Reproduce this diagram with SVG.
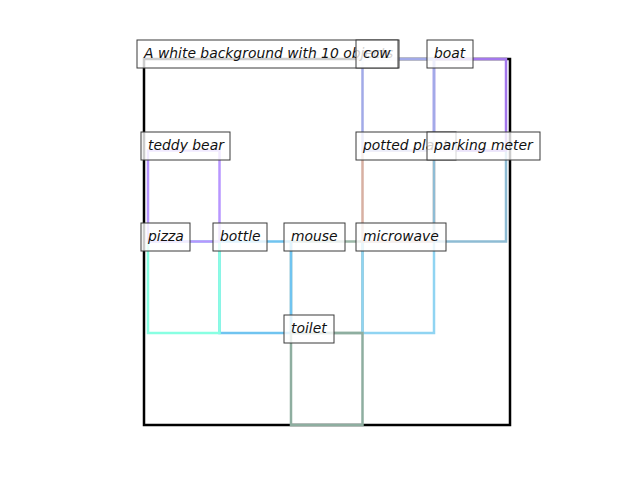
<svg xmlns="http://www.w3.org/2000/svg" width="640" height="480" viewBox="0 0 640 480">
<style>
.box{fill:none;stroke-width:2.5}
.lbl rect{fill:#fff;fill-opacity:0.8;stroke:#3a3a3a;stroke-width:1}
.lbl text{font-family:"DejaVu Sans",sans-serif;font-style:italic;font-size:13.9px;fill:#111}
</style>
<rect width="640" height="480" fill="#fff"/>
<g id="frame"><rect x="144" y="59" width="366" height="366" fill="none" stroke="#000" stroke-width="2.5"/></g>
<g id="objects">
<g id="mouse"><rect class="box" x="291" y="241.5" width="71.5" height="91.5" stroke="#9cb8a8"/></g>
<g id="bottle"><rect class="box" x="219.5" y="241.5" width="71.5" height="91.5" stroke="#70c4f0"/></g>
<g id="pizza"><rect class="box" x="148" y="241.5" width="71.5" height="91.5" stroke="#88ffe2"/></g>
<g id="teddy-bear"><rect class="box" x="148" y="150.5" width="71.5" height="91" stroke="#b896ff"/></g>
<g id="microwave"><rect class="box" x="362.5" y="241.5" width="71.5" height="91.5" stroke="#90d4f2"/></g>
<g id="toilet"><rect class="box" x="291" y="333" width="71.5" height="92" stroke="#8eaea0"/></g>
<g id="potted-plant"><rect class="box" x="362.5" y="150.5" width="71.5" height="91" stroke="#d8b0a2"/></g>
<g id="parking-meter"><rect class="box" x="434" y="150.5" width="72" height="91" stroke="#8ebcd4"/></g>
<g id="boat"><rect class="box" x="434" y="59" width="72" height="91.5" stroke="#a478ec"/></g>
<g id="cow"><rect class="box" x="362.5" y="59" width="71.5" height="91.5" stroke="#a2aae8"/></g>
</g>
<g id="labels">
<g class="lbl" id="label-title"><rect x="137" y="40" width="262" height="28"/><text x="144" y="58">A white background with 10 objects</text></g>
<g class="lbl" id="label-cow"><rect x="356" y="40" width="42" height="28"/><text x="363" y="58">cow</text></g>
<g class="lbl" id="label-boat"><rect x="427" y="40" width="46" height="28"/><text x="434" y="58">boat</text></g>
<g class="lbl" id="label-teddy-bear"><rect x="141" y="132" width="89" height="28"/><text x="148" y="150">teddy bear</text></g>
<g class="lbl" id="label-potted-plant"><rect x="356" y="132" width="100" height="28"/><text x="363" y="150">potted plant</text></g>
<g class="lbl" id="label-parking-meter"><rect x="427" y="132" width="113" height="28"/><text x="434" y="150">parking meter</text></g>
<g class="lbl" id="label-pizza"><rect x="141" y="223" width="49" height="28"/><text x="148" y="241">pizza</text></g>
<g class="lbl" id="label-bottle"><rect x="213" y="223" width="54" height="28"/><text x="220" y="241">bottle</text></g>
<g class="lbl" id="label-mouse"><rect x="284" y="223" width="61" height="28"/><text x="291" y="241">mouse</text></g>
<g class="lbl" id="label-microwave"><rect x="356" y="223" width="90" height="28"/><text x="363" y="241">microwave</text></g>
<g class="lbl" id="label-toilet"><rect x="284" y="315" width="50" height="28"/><text x="291" y="333">toilet</text></g>
</g>
</svg>
